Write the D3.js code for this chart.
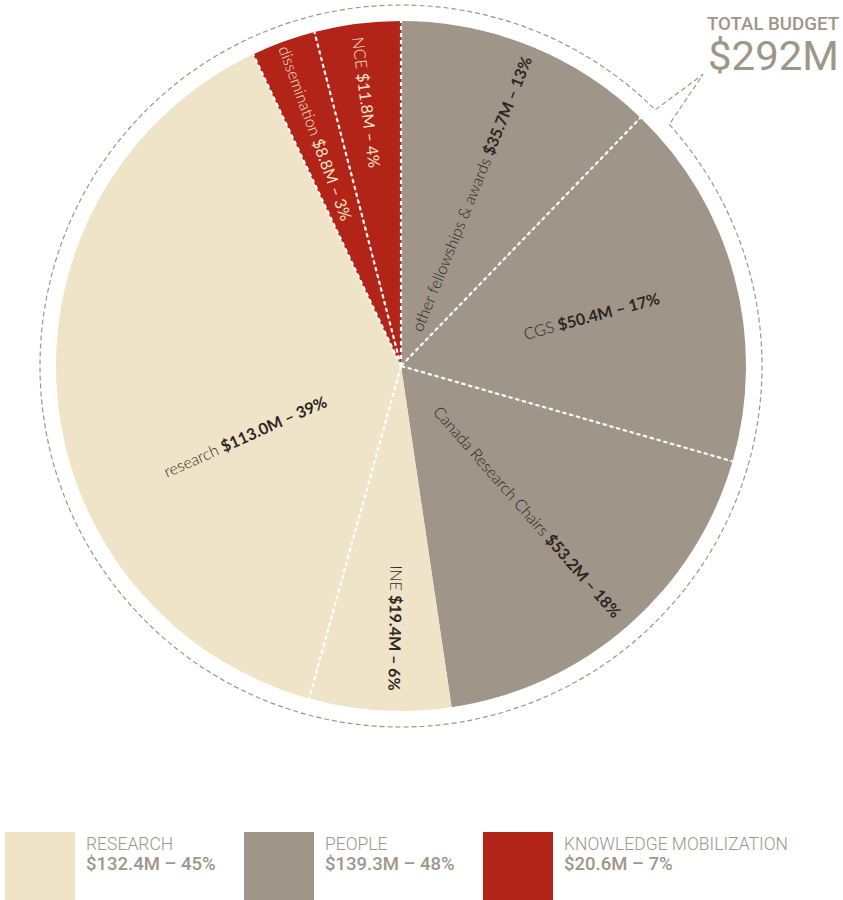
<!DOCTYPE html>
<meta charset="utf-8" />
<script src="https://d3js.org/d3.v7.min.js"></script>
<style>
  body { margin: 0; background: #fff; }
</style>
<div id="my_dataviz"></div>
<script>
  // budget lines, clockwise from 12 o'clock
  const names = ["other fellowships & awards", "CGS", "Canada Research Chairs", "INE", "research", "dissemination", "NCE"];
  const amounts = [35.7, 50.4, 53.2, 19.4, 113.0, 8.8, 11.8];
  const pcts = [13, 17, 18, 6, 39, 3, 4];
  const groupOf = ["PEOPLE", "PEOPLE", "PEOPLE", "RESEARCH", "RESEARCH", "KNOWLEDGE MOBILIZATION", "KNOWLEDGE MOBILIZATION"];

  // legend groups
  const groups = ["RESEARCH", "PEOPLE", "KNOWLEDGE MOBILIZATION"];
  const groupPcts = [45, 48, 7];

  const width = 843, height = 900;
  const cx = 401, cy = 366, radius = 345, ringRadius = 361;
  const narrow = "Roboto, 'DejaVu Sans Condensed', sans-serif";

  const svg = d3.select("#my_dataviz")
    .append("svg")
    .attr("width", width)
    .attr("height", height);

  const color = d3.scaleOrdinal()
    .domain(groups)
    .range(["#F0E4C8", "#A09589", "#B22318"]);

  const data = names.map((n, i) => ({ name: n, value: amounts[i], pct: pcts[i], group: groupOf[i] }));

  const pie = d3.pie().sort(null).value(d => d.value);
  const arcs = pie(data);
  const arc = d3.arc().innerRadius(0).outerRadius(radius);

  const g = svg.append("g").attr("transform", `translate(${cx}, ${cy})`);

  // outer dashed ring with the callout notch
  const deg = Math.PI / 180;
  const a0 = 48 * deg, a1 = 44.8 * deg, tipA = 46 * deg, tipR = 420;
  const pt = (a, r) => [r * Math.sin(a), -r * Math.cos(a)];
  const ring = d3.path();
  let p = pt(a0, ringRadius);
  ring.moveTo(p[0], p[1]);
  // d3.path arc uses angle from x-axis
  ring.arc(0, 0, ringRadius, a0 - Math.PI / 2, a1 - Math.PI / 2 + 2 * Math.PI);
  p = pt(tipA, tipR);
  ring.lineTo(p[0], p[1]);
  p = pt(a0, ringRadius);
  ring.lineTo(p[0], p[1]);
  g.append("path")
    .attr("d", ring.toString())
    .attr("fill", "none")
    .attr("stroke", "#A09589")
    .attr("stroke-width", 1.2)
    .attr("stroke-dasharray", "5,3");

  // slices
  g.selectAll(".slice")
    .data(arcs)
    .join("path")
    .attr("class", "slice")
    .attr("d", arc)
    .attr("fill", d => color(d.data.group));

  // white dashed separators (none between CRC and INE)
  g.selectAll(".sep")
    .data(arcs.filter((d, i) => i !== 2))
    .join("line")
    .attr("class", "sep")
    .attr("x1", 0).attr("y1", 0)
    .attr("x2", d => pt(d.endAngle, radius)[0])
    .attr("y2", d => pt(d.endAngle, radius)[1])
    .attr("stroke", "#fff")
    .attr("stroke-width", 2.2)
    .attr("stroke-dasharray", "4,3");

  // label placement: radius along slice, optional angle override
  const labelR = [186, 197, 193, 262, 171, 248, 266];
  const labelA = [null, null, null, 181, 246, null, null];

  const labels = g.selectAll(".lbl")
    .data(arcs)
    .join("text")
    .attr("class", "lbl")
    .attr("text-anchor", "middle")
    .attr("dominant-baseline", "central")
    .attr("transform", (d, i) => {
      const a = labelA[i] != null ? labelA[i] : (d.startAngle + d.endAngle) / 2 / deg;
      const q = pt(a * deg, labelR[i]);
      const rot = a < 200 ? a - 90 : a - 270;
      return `translate(${q[0]}, ${q[1]}) rotate(${rot})`;
    })
    .style("font-family", "Lato, 'Open Sans', sans-serif")
    .style("font-size", "16px")
    .style("fill", d => d.data.group === "KNOWLEDGE MOBILIZATION" ? "#F3E7CC" : "#2b2622");

  labels.append("tspan")
    .style("font-weight", 300)
    .text(d => d.data.name + " ");
  labels.append("tspan")
    .style("font-weight", d => d.data.group === "KNOWLEDGE MOBILIZATION" ? 400 : 700)
    .text(d => `$${d.data.value.toFixed(1)}M – ${d.data.pct}%`);

  // total
  const total = d3.sum(amounts);
  svg.append("text")
    .attr("x", 839).attr("y", 30)
    .attr("text-anchor", "end")
    .attr("textLength", 132)
    .attr("lengthAdjust", "spacingAndGlyphs")
    .style("font-family", narrow)
    .style("font-weight", 500)
    .style("font-size", "19px")
    .style("fill", "#A09589")
    .text("TOTAL BUDGET");
  svg.append("text")
    .attr("x", 839).attr("y", 70)
    .attr("text-anchor", "end")
    .attr("textLength", 131)
    .attr("lengthAdjust", "spacingAndGlyphs")
    .style("font-family", narrow)
    .style("font-size", "40px")
    .style("fill", "#A09589")
    .text(`$${Math.round(total)}M`);

  // legend
  const legendX = d3.scalePoint().domain(groups).range([5, 483]);
  const leg = svg.selectAll(".leg")
    .data(groups)
    .join("g")
    .attr("class", "leg")
    .attr("transform", d => `translate(${legendX(d)}, 832)`);
  leg.append("rect")
    .attr("width", 70).attr("height", 70)
    .attr("fill", d => color(d));
  leg.append("text")
    .attr("x", 81).attr("y", 18)
    .style("font-family", narrow)
    .style("font-weight", 300)
    .style("font-size", "17.5px")
    .style("fill", "#A09589")
    .text(d => d);
  leg.append("text")
    .attr("x", 81).attr("y", 38)
    .style("font-family", narrow)
    .style("font-weight", 500)
    .style("font-size", "18.5px")
    .style("fill", "#A09589")
    .text((d, i) => {
      const s = d3.sum(data.filter(e => e.group === d), e => e.value);
      return `$${s.toFixed(1)}M – ${groupPcts[i]}%`;
    });
</script>
